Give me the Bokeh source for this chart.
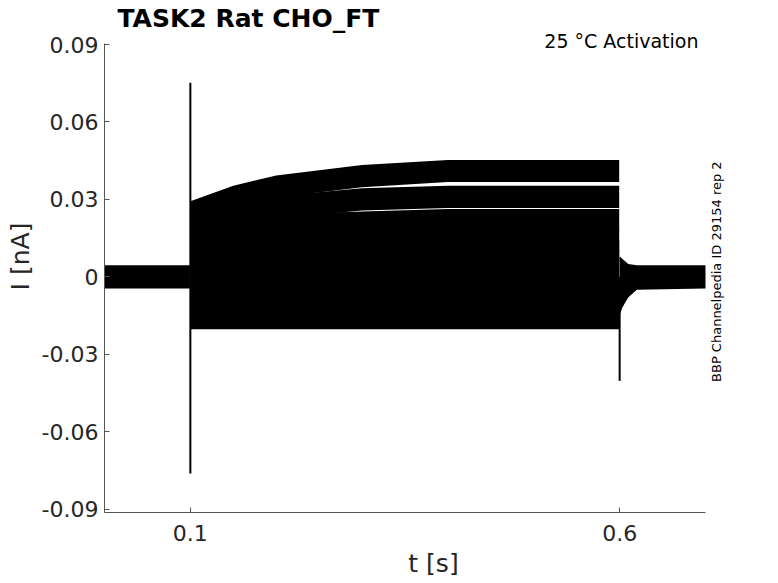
from bokeh.plotting import figure
from bokeh.models import Range1d, FixedTicker, Label
from bokeh.embed import file_html
from bokeh.resources import INLINE

# ---------------- data ----------------
title_text = "TASK2  Rat  CHO_FT"
cond_text = "25 °C  Activation"
id_text = "BBP Channelpedia ID 29154 rep 2"

x_ticks = [0.1, 0.6]
x_tick_labels = ["0.1", "0.6"]
y_ticks = [-0.09, -0.06, -0.03, 0.0, 0.03, 0.06, 0.09]
y_tick_labels = ["-0.09", "-0.06", "-0.03", "0", "0.03", "0.06", "0.09"]

# holding period before the step (all sweeps overlap around 0)
pre_t = [0.0, 0.0995]
pre_lo = [-0.0045, -0.0045]
pre_hi = [0.0045, 0.0045]

# mean current of each sweep during the step (nA)
pulse_t = [0.1, 0.15, 0.2, 0.3, 0.4, 0.5, 0.5995]
level_a = [0.025, 0.031, 0.035, 0.039, 0.041, 0.041, 0.041]
level_b = [0.021, 0.024, 0.027, 0.030, 0.031, 0.031, 0.031]
level_c = [0.016, 0.018, 0.020, 0.021, 0.022, 0.022, 0.022]
level_d = [0.011, 0.012, 0.013, 0.014, 0.014, 0.014, 0.014]
level_e = [0.008, 0.009, 0.009, 0.010, 0.010, 0.010, 0.010]
level_f = [0.005, 0.005, 0.006, 0.006, 0.006, 0.006, 0.006]
level_g = [0.002, 0.002, 0.002, 0.003, 0.003, 0.003, 0.003]
level_h = [-0.001, -0.001, -0.001, -0.001, -0.001, -0.001, -0.001]
level_i = [-0.004, -0.004, -0.004, -0.004, -0.004, -0.004, -0.004]
level_j = [-0.007, -0.007, -0.007, -0.007, -0.007, -0.007, -0.007]
level_k = [-0.010, -0.010, -0.010, -0.010, -0.010, -0.010, -0.010]
level_l = [-0.016, -0.016, -0.016, -0.016, -0.016, -0.016, -0.016]
pulse_noise = 0.0043  # half peak-to-peak noise of one sweep

# tail after the step
post_t = [0.6, 0.603, 0.61, 0.62, 0.7]
post_lo = [-0.015, -0.012, -0.008, -0.005, -0.0045]
post_hi = [0.008, 0.007, 0.005, 0.0045, 0.0045]

# capacitive transients
spike_t = [0.1, 0.6]
spike_hi = [0.0752, 0.0]
spike_lo = [-0.0762, -0.0403]

# axis limits
x_min, x_max = 0.0, 0.7
y_min, y_max = -0.0913, 0.0904

# ---------------- figure ----------------
FONT = "DejaVu Sans"
# the frame is widened past the axes so the side texts are not clipped;
# the axis lines are bounded to the real limits
p = figure(width=762, height=583, output_backend="svg", toolbar_location=None,
           title=None,
           x_range=Range1d(x_min, 0.7664), y_range=Range1d(y_min, 0.10705),
           min_border_left=104, min_border_right=0, min_border_top=0,
           min_border_bottom=71)
p.outline_line_color = None
p.background_fill_color = "white"
p.border_fill_color = "white"
p.xgrid.visible = False
p.ygrid.visible = False

ink = "black"
p.varea(x=pre_t, y1=pre_lo, y2=pre_hi, fill_color=ink)
for lev in [level_a, level_b, level_c, level_d, level_e, level_f,
            level_g, level_h, level_i, level_j, level_k, level_l]:
    lo = [v - pulse_noise for v in lev]
    hi = [v + pulse_noise for v in lev]
    p.varea(x=pulse_t, y1=lo, y2=hi, fill_color=ink)
p.varea(x=post_t, y1=post_lo, y2=post_hi, fill_color=ink)
p.segment(x0=spike_t, y0=spike_lo, x1=spike_t, y1=spike_hi,
          line_color=ink, line_width=2)

# axes
axis_color = "#555555"
label_color = "#262626"
for ax in (p.xaxis[0], p.yaxis[0]):
    ax.axis_line_color = axis_color
    ax.major_tick_line_color = axis_color
    ax.minor_tick_line_color = None
    ax.major_tick_in = 5
    ax.major_tick_out = 0
    ax.major_label_text_font = FONT
    ax.major_label_text_font_size = "22px"
    ax.major_label_text_color = label_color
    ax.axis_label_text_font = FONT
    ax.axis_label_text_font_size = "25px"
    ax.axis_label_text_font_style = "normal"
    ax.axis_label_text_color = label_color

p.xaxis.bounds = (x_min, x_max)
p.xaxis.ticker = FixedTicker(ticks=x_ticks)
p.xaxis.major_label_overrides = dict(zip(x_ticks, x_tick_labels))
p.xaxis.major_label_standoff = 12
p.xaxis.axis_label = "t [s]"
p.xaxis.axis_label_standoff = 5

p.yaxis.bounds = (y_min, y_max)
p.yaxis.ticker = FixedTicker(ticks=y_ticks)
p.yaxis.major_label_overrides = dict(zip(y_ticks, y_tick_labels))
p.yaxis.major_label_standoff = 6
p.yaxis.axis_label = "I [nA]"
p.yaxis.axis_label_standoff = 4

# title and side texts
p.add_layout(Label(x=x_min, y=0.09, text=title_text, x_offset=13,
                   y_offset=26, text_align="left", text_baseline="alphabetic",
                   text_font=FONT, text_font_size="25px",
                   text_font_style="bold", text_color="black"))
p.add_layout(Label(x=x_max, y=0.09, text=cond_text, x_offset=-1, y_offset=4,
                   text_align="right", text_baseline="alphabetic",
                   text_font=FONT, text_font_size="19px", text_color="black"))
p.add_layout(Label(x=x_max, y=0.002, text=id_text, angle=1.5708,
                   angle_units="rad", x_offset=11, text_align="center",
                   text_baseline="middle", text_font=FONT,
                   text_font_size="13px", text_color="black"))

open("out.html", "w").write(file_html(p, INLINE))
